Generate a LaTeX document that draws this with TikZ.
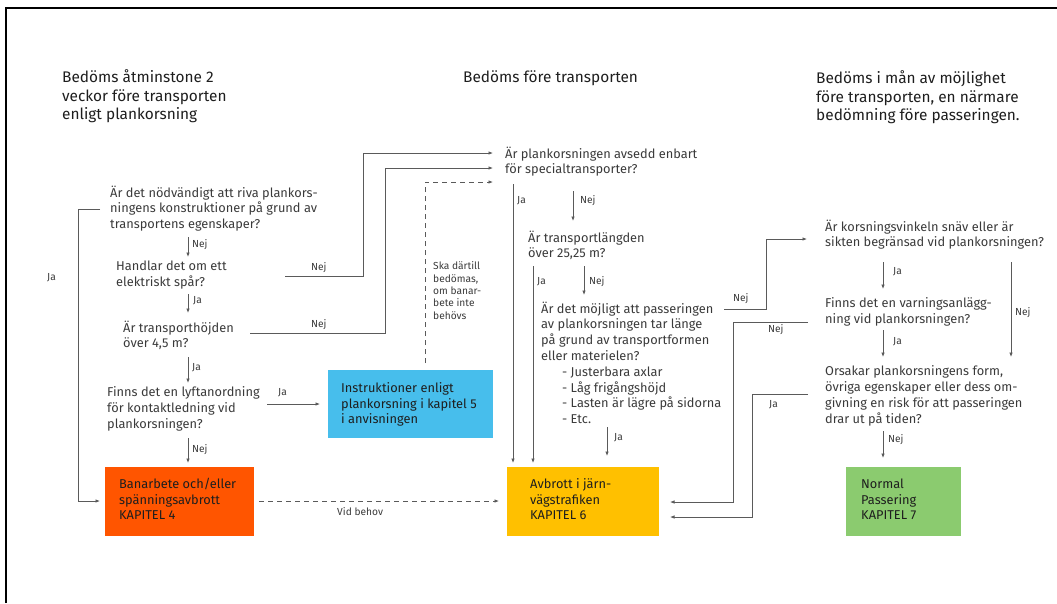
\documentclass[tikz,border=0pt]{standalone}
\usepackage{fontspec}
\setmainfont{Fira Sans}
\usetikzlibrary{arrows.meta}
\definecolor{txt}{HTML}{3A3A3A}
\definecolor{hdc}{HTML}{1E1E1E}
\definecolor{linec}{HTML}{5A5A5A}
\definecolor{orng}{HTML}{FF5500}
\definecolor{blu}{HTML}{47BEEC}
\definecolor{yel}{HTML}{FFC000}
\definecolor{grn}{HTML}{8BCB6F}
\begin{document}
\begin{tikzpicture}[x=1pt,y=-1pt,
  q/.style={anchor=north west,inner sep=0pt,align=left,text=txt,font=\fontsize{12.8}{15.8}\selectfont},
  bt/.style={q,text=hdc},
  hd/.style={anchor=north west,inner sep=0pt,align=left,text=hdc,font=\fontsize{15.4}{18.8}\selectfont},
  lbl/.style={anchor=west,inner sep=0pt,text=txt,font=\fontsize{10.2}{12.3}\selectfont},
  slbl/.style={anchor=north west,inner sep=0pt,align=left,text=txt,font=\fontsize{10.2}{12.3}\selectfont},
  boxn/.style={anchor=north west,inner sep=0pt,draw=none},
  con/.style={draw=linec,line width=0.8pt},
  arr/.style={con,-{Latex[length=4.5pt,width=3.6pt]}},
  dsh/.style={arr,dash pattern=on 5pt off 4pt}]
\useasboundingbox (0,0) rectangle (1057,603);
% frame
\draw[line width=1.8pt,black] (6,603) -- (6,8) -- (1057,8);
% headings
\node[hd] (h1) at (62,69) {\strut Bedöms åtminstone 2\\veckor före transporten\\enligt plankorsning};
\node[hd] (h2) at (463,69) {\strut Bedöms före transporten};
\node[hd] (h3) at (816,70) {\strut Bedöms i mån av möjlighet\\före transporten, en närmare\\bedömning före passeringen.};
% boxes
\node[boxn,fill=orng,minimum width=149pt,minimum height=69pt] (ob) at (105,467) {};
\node[boxn,fill=blu,minimum width=165pt,minimum height=68pt] (bb) at (328,370) {};
\node[boxn,fill=yel,minimum width=152pt,minimum height=69pt] (yb) at (507,467) {};
\node[boxn,fill=grn,minimum width=115pt,minimum height=69pt] (gb) at (846,467) {};
\node[bt] (ot) at (119,477) {\strut Banarbete och/eller\\spänningsavbrott\\KAPITEL 4};
\node[bt] (btx) at (341,381) {\strut Instruktioner enligt\\plankorsning i kapitel 5\\i anvisningen};
\node[bt] (yt) at (530,477) {\strut Avbrott i järn-\\vägstrafiken\\KAPITEL 6};
\node[bt] (gt) at (861,477) {\strut Normal\\Passering\\KAPITEL 7};
% questions
\node[q] (q1) at (110,185.5) {\strut Är det nödvändigt att riva plankors-\\ningens konstruktioner på grund av\\transportens egenskaper?};
\node[q] (q2) at (116,259.5) {\strut Handlar det om ett\\elektriskt spår?};
\node[q] (q3) at (123,320.5) {\strut Är transporthöjden\\över 4,5 m?};
\node[q] (q4) at (107,385.5) {\strut Finns det en lyftanordning\\för kontaktledning vid\\plankorsningen?};
\node[q] (q5) at (505,146.5) {\strut Är plankorsningen avsedd enbart\\för specialtransporter?};
\node[q] (q6) at (528,230.5) {\strut Är transportlängden\\över 25,25 m?};
\node[q] (q7) at (541,301.5) {\strut Är det möjligt att passeringen\\av plankorsningen tar länge\\på grund av transportformen\\eller materielen?\\\hspace*{21pt}- Justerbara axlar\\\hspace*{21pt}- Låg frigångshöjd\\\hspace*{21pt}- Lasten är lägre på sidorna\\\hspace*{21pt}- Etc.};
\node[q] (q8) at (825,219.5) {\strut Är korsningsvinkeln snäv eller är\\sikten begränsad vid plankorsningen?};
\node[q] (q9) at (825,296.5) {\strut Finns det en varningsanlägg-\\ning vid plankorsningen?};
\node[q] (q10) at (825,364.5) {\strut Orsakar plankorsningens form,\\övriga egenskaper eller dess om-\\givning en risk för att passeringen\\drar ut på tiden?};
% coordinates
\coordinate (a1s) at (188,237); \coordinate (a1e) at (188,257);
\coordinate (a2s) at (188,294); \coordinate (a2e) at (188,313);
\coordinate (a3s) at (188,357); \coordinate (a3e) at (188,383);
\coordinate (a4s) at (188,438); \coordinate (a4e) at (188,463);
\coordinate (j1s) at (100,209); \coordinate (j1a) at (78,209); \coordinate (j1b) at (78,501); \coordinate (j1e) at (100,501);
\coordinate (n2s) at (285,276); \coordinate (n2a) at (363,276); \coordinate (n2b) at (363,153); \coordinate (n2e) at (493,153);
\coordinate (n3s) at (250,333); \coordinate (n3a) at (385,333); \coordinate (n3b) at (385,168); \coordinate (n3e) at (493,168);
\coordinate (d1s) at (425,363); \coordinate (d1a) at (425,182); \coordinate (d1e) at (493,182);
\coordinate (j4s) at (267,404); \coordinate (j4e) at (320,404);
\coordinate (vbs) at (259,501); \coordinate (vbe) at (499,501);
\coordinate (j5s) at (513,184); \coordinate (j5e) at (513,463);
\coordinate (n5s) at (573,191); \coordinate (n5e) at (573,221);
\coordinate (j6s) at (533,266); \coordinate (j6e) at (533,463);
\coordinate (n6s) at (584,266); \coordinate (n6e) at (584,295);
\coordinate (j7s) at (607,427); \coordinate (j7e) at (607,456);
\coordinate (n7s) at (724,309); \coordinate (n7a) at (766,309); \coordinate (n7b) at (766,239); \coordinate (n7e) at (807,239);
\coordinate (j8s) at (883,262); \coordinate (j8e) at (883,289);
\coordinate (n8s) at (1011,262); \coordinate (n8e) at (1011,357);
\coordinate (n9s) at (808,322); \coordinate (n9a) at (733,322); \coordinate (n9b) at (733,502); \coordinate (n9e) at (670,502);
\coordinate (j9s) at (883,330); \coordinate (j9e) at (883,357);
\coordinate (j10s) at (808,394); \coordinate (j10a) at (752,394); \coordinate (j10b) at (752,517); \coordinate (j10e) at (670,517);
\coordinate (n10s) at (883,431); \coordinate (n10e) at (883,458);
% connectors
\draw[arr] (a1s) -- (a1e);
\draw[arr] (a2s) -- (a2e);
\draw[arr] (a3s) -- (a3e);
\draw[arr] (a4s) -- (a4e);
\draw[arr] (j1s) -- (j1a) -- (j1b) -- (j1e);
\draw[arr] (n2s) -- (n2a) -- (n2b) -- (n2e);
\draw[arr] (n3s) -- (n3a) -- (n3b) -- (n3e);
\draw[dsh] (d1s) -- (d1a) -- (d1e);
\draw[arr] (j4s) -- (j4e);
\draw[dsh] (vbs) -- (vbe);
\draw[arr] (j5s) -- (j5e);
\draw[arr] (n5s) -- (n5e);
\draw[arr] (j6s) -- (j6e);
\draw[arr] (n6s) -- (n6e);
\draw[arr] (j7s) -- (j7e);
\draw[arr] (n7s) -- (n7a) -- (n7b) -- (n7e);
\draw[arr] (j8s) -- (j8e);
\draw[arr] (n8s) -- (n8e);
\draw[arr] (n9s) -- (n9a) -- (n9b) -- (n9e);
\draw[arr] (j9s) -- (j9e);
\draw[arr] (j10s) -- (j10a) -- (j10b) -- (j10e);
\draw[arr] (n10s) -- (n10e);
% labels
\node[lbl] (l1) at (192,245) {Nej};
\node[lbl] (l2) at (193,301) {Ja};
\node[lbl] (l3) at (192,368) {Ja};
\node[lbl] (l4) at (192,450) {Nej};
\node[lbl] (l5) at (47,278) {Ja};
\node[lbl] (l6) at (311,268) {Nej};
\node[lbl] (l7) at (311,325) {Nej};
\node[lbl] (l8) at (278,393) {Ja};
\node[lbl] (l9) at (337,512) {Vid behov};
\node[slbl] (l10) at (433,261) {\strut Ska därtill\\bedömas,\\om banar-\\bete inte\\behövs};
\node[lbl] (l11) at (517,201) {Ja};
\node[lbl] (l12) at (580,201) {Nej};
\node[lbl] (l13) at (537,282) {Ja};
\node[lbl] (l14) at (589,282) {Nej};
\node[lbl] (l15) at (614,438) {Ja};
\node[lbl] (l16) at (733,299) {Nej};
\node[lbl] (l17) at (893,272) {Ja};
\node[lbl] (l18) at (1015,313) {Nej};
\node[lbl] (l19) at (768,330) {Nej};
\node[lbl] (l20) at (893,342) {Ja};
\node[lbl] (l21) at (769,405) {Ja};
\node[lbl] (l22) at (888,440) {Nej};
\end{tikzpicture}
\end{document}
